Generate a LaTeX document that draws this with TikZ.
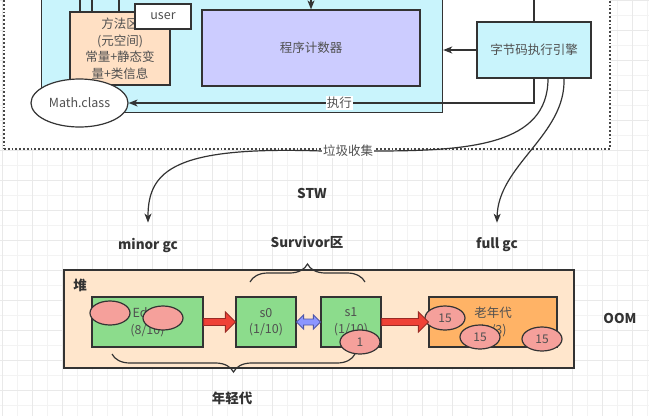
\documentclass[tikz,border=0pt]{standalone}
\usepackage{fontspec}
\setmainfont{Noto Sans CJK SC}
\usetikzlibrary{arrows.meta,decorations.pathreplacing,shapes.geometric,calc}
\definecolor{cyanbg}{HTML}{C9F4FC}
\definecolor{peach}{HTML}{FFE0C4}
\definecolor{heapbg}{HTML}{FFE6CC}
\definecolor{lav}{HTML}{CCCCFF}
\definecolor{grn}{HTML}{8CDC8C}
\definecolor{oldc}{HTML}{FFB366}
\definecolor{salmon}{HTML}{F5A09B}
\definecolor{redar}{HTML}{EF4136}
\definecolor{redln}{HTML}{9A2A24}
\definecolor{bluar}{HTML}{8C96FF}
\definecolor{bluln}{HTML}{4E56A8}
\definecolor{ln}{HTML}{333333}
\definecolor{txt}{HTML}{505050}
\definecolor{gridmin}{HTML}{F3F3F3}
\definecolor{gridmaj}{HTML}{E9E9E9}
\newcommand{\fatarr}[3]{%
  \draw[#1] let \p1=(#2), \p2=(#3) in
    (\x1,{\y1+3.5pt}) -- ({\x2-10pt},{\y1+3.5pt}) -- ({\x2-10pt},{\y1+10pt}) -- (\x2,\y1)
    -- ({\x2-10pt},{\y1-10pt}) -- ({\x2-10pt},{\y1-3.5pt}) -- (\x1,{\y1-3.5pt}) -- cycle;}
\newcommand{\dblarr}[3]{%
  \draw[#1] let \p1=(#2), \p2=(#3) in
    (\x1,\y1) -- ({\x1+7pt},{\y1+7pt}) -- ({\x1+7pt},{\y1+3pt}) -- ({\x2-7pt},{\y1+3pt})
    -- ({\x2-7pt},{\y1+7pt}) -- (\x2,\y1) -- ({\x2-7pt},{\y1-7pt}) -- ({\x2-7pt},{\y1-3pt})
    -- ({\x1+7pt},{\y1-3pt}) -- ({\x1+7pt},{\y1-7pt}) -- cycle;}
\begin{document}
\begin{tikzpicture}[x=1pt,y=-1pt,
  box/.style={draw=ln,line width=1.2pt,inner sep=0pt,text=txt,font=\fontsize{12.5}{16.5}\selectfont,align=center},
  oval/.style={ellipse,draw=ln,line width=1.2pt,fill=salmon,minimum width=40pt,minimum height=24pt,inner sep=0pt,text=txt,font=\fontsize{12}{14}\selectfont},
  lab/.style={text=ln,font=\fontsize{13.5}{16}\selectfont\bfseries,inner sep=2pt},
  line/.style={draw=ln,line width=1.2pt},
  arr/.style={line,-{Stealth[length=9pt,width=7pt,inset=2.5pt]}},
  brc/.style={draw=ln,line width=1.2pt,decorate,decoration={brace,amplitude=18pt}},
  fatred/.style={fill=redar,draw=redln,line width=0.9pt,line join=miter},
  fatblue/.style={fill=bluar,draw=bluln,line width=0.9pt,line join=miter}]
\clip (0,0) rectangle (649,416);
\fill[white] (0,0) rectangle (649,416);
% grid
\foreach \x in {2,17,...,647} \draw[gridmin,line width=0.6pt] (\x,0) -- (\x,416);
\foreach \y in {0,15,...,415} \draw[gridmin,line width=0.6pt] (0,\y) -- (649,\y);
\foreach \x in {2,32,...,647} \draw[gridmaj,line width=0.7pt] (\x,0) -- (\x,416);
\foreach \y in {0,30,...,415} \draw[gridmaj,line width=0.7pt] (0,\y) -- (649,\y);
% dotted outer area
\node[draw=ln!90,fill=white,line width=1.8pt,dash pattern=on 1.8pt off 2pt,anchor=north west,
  minimum width=606pt,minimum height=158pt,inner sep=0pt] (rtarea) at (3,-10) {};
% runtime cyan box
\node[box,fill=cyanbg,anchor=north west,minimum width=401pt,minimum height=122pt] (rt) at (41,-10) {};
\node[box,fill=peach,minimum width=100pt,minimum height=73pt] (ma) at (120,48.5)
  {方法区\\(元空间)\\常量+静态变\\量+类信息};
\node[box,fill=white,minimum width=56pt,minimum height=25pt] (user) at (163,16.5) {user};
\node[box,fill=lav,minimum width=218pt,minimum height=76pt] (pc) at (311,48) {程序计数器};
\node[box,fill=cyanbg,minimum width=114pt,minimum height=56pt] (eng) at (534,50) {字节码执行引擎};
\node[box,ellipse,fill=white,minimum width=97pt,minimum height=48pt] (math) at (79.5,103) {Math.class};
% top connectors (free ends above the picture)
\coordinate (t1) at (80,-6);
\coordinate (t2) at (92,-6);
\coordinate (t3) at (119,-6);
\coordinate (t4) at (311,-6);
\coordinate (t5) at (534,-6);
\draw[line] (t1) -- (t1 |- ma.north);
\draw[line] (t2) -- (t2 |- ma.north);
\draw[line] (t3) -- (t3 |- ma.north);
\draw[arr] (t4) -- (pc.north);
\draw[line] (t5) -- (eng.north);
\draw[arr] (eng.west) -- (eng.west -| rt.east);
\draw[arr] (eng.south) |- (math.east)
  node[pos=0.74,fill=white,inner sep=1pt,text=txt,font=\fontsize{12.5}{14}\selectfont] {执行};
% labels
\node[fill=white,inner sep=1pt,text=txt,font=\fontsize{12.5}{14}\selectfont] (gc) at (348,151) {垃圾收集};
\node[lab] (stw) at (312,193) {STW};
\node[lab] (minor) at (148,245) {minor gc};
\node[lab] (surv) at (307,242) {Survivor区};
\node[lab] (full) at (497,245) {full gc};
\node[lab] (oom) at (620,318) {OOM};
\draw[line] ([xshift=14pt]eng.south) .. controls (548,145) and (470,151) .. (gc.east);
\draw[arr] (gc.west) .. controls (175,146) and (148,170) .. ([yshift=13pt]minor.north);
\draw[arr] ([xshift=30pt]eng.south) .. controls (566,135) and (498,165) .. ([yshift=13pt]full.north);
% heap
\node[box,fill=heapbg,minimum width=510pt,minimum height=98pt] (heap) at (319,319) {};
\node[lab] (dui) at (80,285) {堆};
\node[box,fill=grn,minimum width=111pt,minimum height=50pt] (eden) at (147.5,322) {Eden\\(8/10)};
\node[box,fill=grn,minimum width=60pt,minimum height=50pt] (s0) at (266,322) {s0\\(1/10)};
\node[box,fill=grn,minimum width=60pt,minimum height=50pt] (s1) at (351,322) {s1\\(1/10)};
\node[box,fill=oldc,minimum width=128pt,minimum height=50pt] (old) at (493,322) {老年代\\(2/3)};
\node[oval] (e1) at (110,313) {};
\node[oval] (e2) at (163,318) {};
\node[oval] (e3) at (360,342) {1};
\node[oval] (o1) at (445,318) {15};
\node[oval] (o2) at (480,337) {15};
\node[oval] (o3) at (542,339) {15};
\fatarr{fatred}{eden.east}{s0.west}
\dblarr{fatblue}{s0.east}{s1.west}
\fatarr{fatred}{s1.east}{old.west}
% braces
\coordinate (b1) at (250,282);
\coordinate (b2) at (365,282);
\draw[brc] (b1) -- (b2);
\coordinate (b3) at (355,354);
\coordinate (b4) at (112,354);
\draw[brc] (b3) -- (b4);
\node[lab] (young) at (232,398) {年轻代};
\end{tikzpicture}
\end{document}
